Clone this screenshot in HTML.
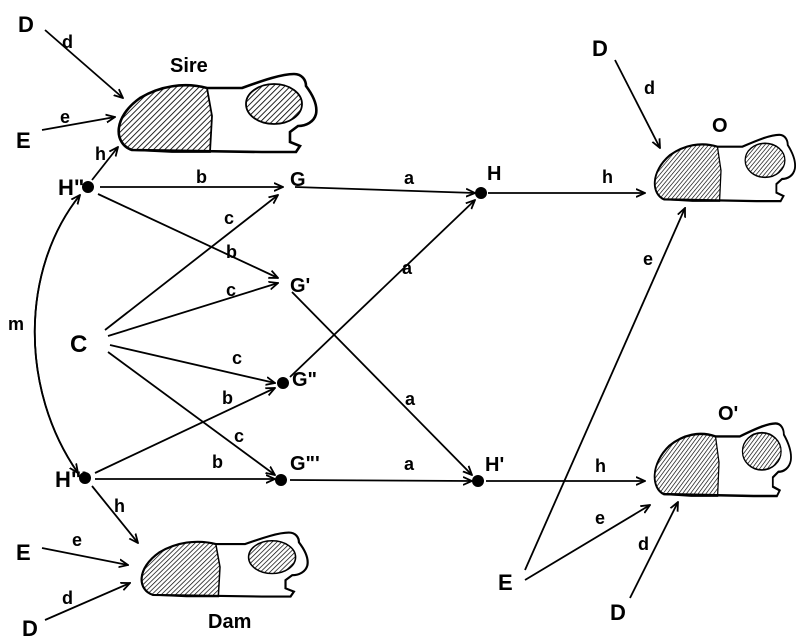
<!DOCTYPE html>
<html><head><meta charset="utf-8"><style>
html,body{margin:0;padding:0;background:#fff}
svg{display:block}
text{font-family:"Liberation Sans",sans-serif;fill:#000;font-weight:bold}
</style></head><body>
<svg width="800" height="640" viewBox="0 0 800 640" xmlns="http://www.w3.org/2000/svg">
<defs>
<marker id="ar" markerWidth="10" markerHeight="10" refX="9" refY="5" orient="auto" markerUnits="userSpaceOnUse">
<path d="M0,1 L9,5 L0,9" fill="none" stroke="#000" stroke-width="1.8"/>
</marker>
<pattern id="hat" width="4" height="4" patternUnits="userSpaceOnUse" patternTransform="rotate(45)">
<line x1="0" y1="0" x2="0" y2="4" stroke="#000" stroke-width="1.7"/>
</pattern>
<g id="gp">
<path d="M20,84 C2,78 0,52 28,32 C48,20 72,16 95,22 L130,22 C152,14 170,8 182,8 C190,8 194,14 194,20 C200,28 206,38 204,48 C202,56 194,60 186,60 L178,66 L178,76 L188,80 L184,86 L150,86 Z" fill="#fff" stroke="#000" stroke-width="2.6"/>
<path d="M20,84 C2,78 0,52 28,32 C48,20 72,16 95,22 L100,50 L98,86 L60,86 Z" fill="url(#hat)"/>
<ellipse cx="162" cy="38" rx="28" ry="20" fill="url(#hat)"/>
</g>
</defs>
<g fill="none" stroke="#000" stroke-width="1.8">
<use href="#gp" transform="translate(112,66)"/>
<use href="#gp" transform="translate(650,128) scale(0.71,0.85)"/>
<use href="#gp" transform="translate(650,416) scale(0.69,0.93)"/>
<use href="#gp" transform="translate(136,526) scale(0.84,0.82)"/>
<line x1="45" y1="30" x2="123" y2="98" marker-end="url(#ar)"/>
<line x1="42" y1="130" x2="115" y2="117" marker-end="url(#ar)"/>
<line x1="92" y1="180" x2="118" y2="147" marker-end="url(#ar)"/>
<line x1="100" y1="187" x2="283" y2="187" marker-end="url(#ar)"/>
<line x1="98" y1="194" x2="278" y2="278" marker-end="url(#ar)"/>
<line x1="105" y1="330" x2="278" y2="195" marker-end="url(#ar)"/>
<line x1="108" y1="336" x2="278" y2="283" marker-end="url(#ar)"/>
<line x1="110" y1="345" x2="275" y2="383" marker-end="url(#ar)"/>
<line x1="108" y1="352" x2="275" y2="475" marker-end="url(#ar)"/>
<line x1="95" y1="473" x2="275" y2="388" marker-end="url(#ar)"/>
<line x1="95" y1="479" x2="275" y2="479" marker-end="url(#ar)"/>
<line x1="92" y1="486" x2="138" y2="543" marker-end="url(#ar)"/>
<path d="M80,195 C20,270 20,390 78,473" marker-end="url(#ar)"/>
<path d="M78,473 C20,390 20,270 80,195" marker-end="url(#ar)"/>
<line x1="295" y1="187" x2="475" y2="193" marker-end="url(#ar)"/>
<line x1="290" y1="377" x2="475" y2="200" marker-end="url(#ar)"/>
<line x1="292" y1="292" x2="472" y2="475" marker-end="url(#ar)"/>
<line x1="290" y1="480" x2="472" y2="481" marker-end="url(#ar)"/>
<line x1="488" y1="193" x2="645" y2="193" marker-end="url(#ar)"/>
<line x1="486" y1="481" x2="645" y2="481" marker-end="url(#ar)"/>
<line x1="615" y1="60" x2="660" y2="148" marker-end="url(#ar)"/>
<line x1="525" y1="570" x2="685" y2="208" marker-end="url(#ar)"/>
<line x1="525" y1="580" x2="650" y2="505" marker-end="url(#ar)"/>
<line x1="630" y1="598" x2="678" y2="502" marker-end="url(#ar)"/>
<line x1="42" y1="548" x2="128" y2="565" marker-end="url(#ar)"/>
<line x1="45" y1="620" x2="130" y2="583" marker-end="url(#ar)"/>
</g>
<g fill="#000">
<circle cx="88" cy="187" r="6"/>
<circle cx="481" cy="193" r="6"/>
<circle cx="283" cy="383" r="6"/>
<circle cx="281" cy="480" r="6"/>
<circle cx="478" cy="481" r="6"/>
<circle cx="85" cy="478" r="6"/>
</g>
<g font-size="22">
<text x="18" y="32">D</text>
<text x="16" y="148">E</text>
<text x="58" y="195">H"</text>
<text x="70" y="352" font-size="24">C</text>
<text x="55" y="487">H"'</text>
<text x="16" y="560">E</text>
<text x="22" y="636">D</text>
<text x="592" y="56">D</text>
<text x="498" y="590">E</text>
<text x="610" y="620">D</text>
<text x="290" y="186" font-size="20">G</text>
<text x="290" y="292" font-size="20">G'</text>
<text x="292" y="386" font-size="20">G"</text>
<text x="290" y="470" font-size="20">G"'</text>
<text x="487" y="180" font-size="20">H</text>
<text x="485" y="471" font-size="20">H'</text>
<text x="712" y="132" font-size="20">O</text>
<text x="718" y="420" font-size="20">O'</text>
<text x="170" y="72" font-size="20">Sire</text>
<text x="208" y="628" font-size="20">Dam</text>
</g>
<g font-size="18">
<text x="62" y="48">d</text>
<text x="60" y="123">e</text>
<text x="95" y="160">h</text>
<text x="196" y="183">b</text>
<text x="404" y="184">a</text>
<text x="602" y="183">h</text>
<text x="226" y="258">b</text>
<text x="224" y="224">c</text>
<text x="226" y="296">c</text>
<text x="232" y="364">c</text>
<text x="222" y="404">b</text>
<text x="234" y="442">c</text>
<text x="212" y="468">b</text>
<text x="402" y="274">a</text>
<text x="405" y="405">a</text>
<text x="404" y="470">a</text>
<text x="595" y="472">h</text>
<text x="8" y="330">m</text>
<text x="114" y="512">h</text>
<text x="72" y="546">e</text>
<text x="62" y="604">d</text>
<text x="644" y="94">d</text>
<text x="643" y="265">e</text>
<text x="595" y="524">e</text>
<text x="638" y="550">d</text>
</g>
</svg>
</body></html>
